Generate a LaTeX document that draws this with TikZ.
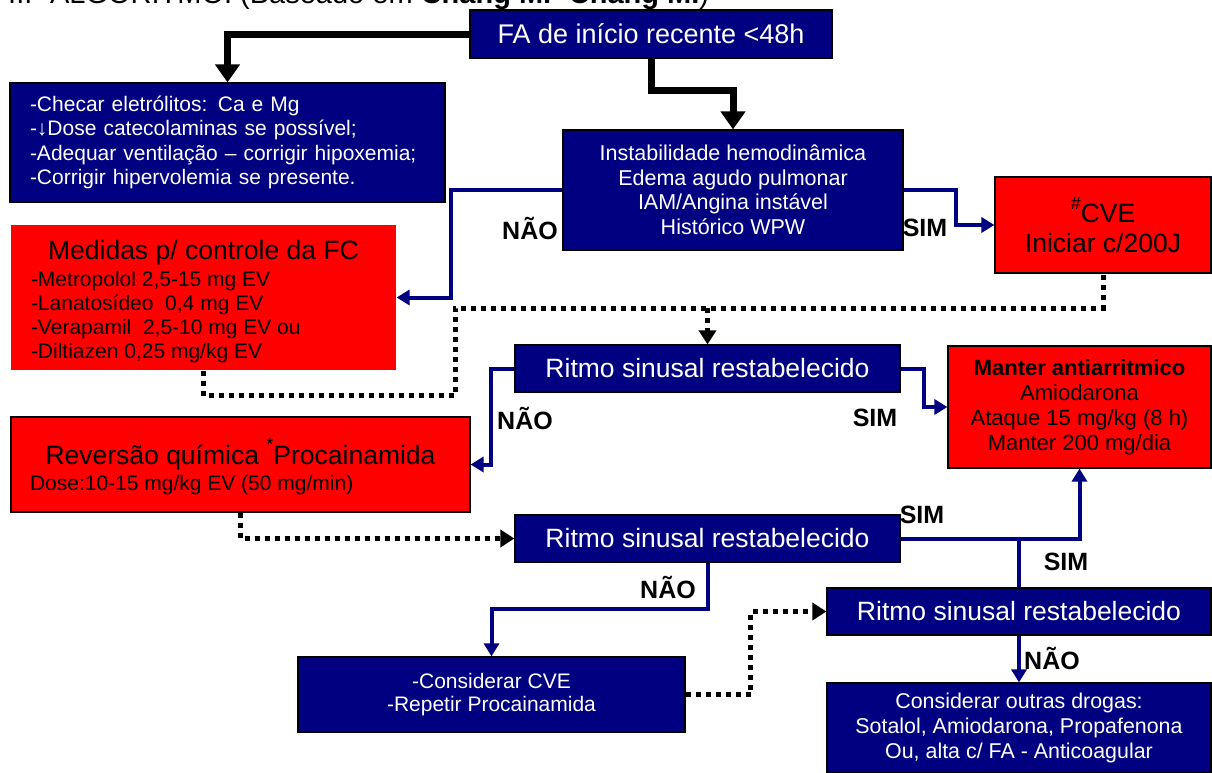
\documentclass[tikz,border=0pt]{standalone}
\usepackage{fontspec}
\setmainfont{Liberation Sans}
\usetikzlibrary{arrows.meta}
\definecolor{navyc}{RGB}{0,0,128}
\definecolor{redc}{RGB}{255,0,0}
\newcommand\fs[2]{\fontsize{#1}{#2}\selectfont}
\begin{document}
\begin{tikzpicture}[x=1pt,y=-1pt,
  box/.style={rectangle,inner sep=0pt,draw=black,line width=1.2pt},
  nbox/.style={box,fill=navyc,text=white},
  rbox/.style={box,fill=redc,text=black},
  blk/.style={draw=black,line width=7pt,-{Triangle[width=24pt,length=18pt]}},
  nav/.style={draw=navyc,line width=4pt,-{Triangle[width=15pt,length=13pt]}},
  navl/.style={draw=navyc,line width=4pt},
  dotl/.style={draw=black,line width=5pt,dash pattern=on 5pt off 5pt},
  dota/.style={dotl,-{Triangle[width=17pt,length=14pt]}},
  lbl/.style={font=\bfseries\fs{25}{25},inner sep=0pt}]
\useasboundingbox (0,0) rectangle (1212,772);

\node[anchor=base west,inner sep=0pt,font=\fs{29}{29}] (ttl) at (8,3.5) {III- ALGORITMO: (Baseado em \textbf{Chang MI- Chang MI})};

\node[nbox,minimum width=362pt,minimum height=48pt,font=\fs{27}{30}] (fa) at (651,34) {FA de início recente <48h};
\node[nbox,minimum width=435pt,minimum height=119pt,text width=395pt,align=left,font=\fs{21}{24.3}] (chk) at (227.5,142.5) {-Checar eletrólitos: Ca e Mg\\-↓Dose catecolaminas se possível;\\-Adequar ventilação – corrigir hipoxemia;\\-Corrigir hipervolemia se presente.};
\node[nbox,minimum width=340pt,minimum height=120pt,align=center,font=\fs{21.5}{24.5}] (ins) at (733,190) {Instabilidade hemodinâmica\\Edema agudo pulmonar\\IAM/Angina instável\\Histórico WPW};
\node[rbox,minimum width=216pt,minimum height=96pt,align=center,font=\fs{26.5}{30}] (cve) at (1103,225) {\raisebox{0.5em}{\fs{18}{18}\#}CVE\\Iniciar c/200J};
\node[rbox,draw=none,minimum width=385pt,minimum height=145pt] (med) at (203.5,297.5) {\begin{minipage}{345pt}\vspace*{8pt}\centering\fs{26.5}{28}Medidas p/ controle da FC\par\vspace{3pt}\raggedright\fs{21}{24}-Metropolol 2,5-15 mg EV\\-Lanatosídeo\ \ 0,4 mg EV\\-Verapamil\ \ 2,5-10 mg EV ou\\-Diltiazen 0,25 mg/kg EV\end{minipage}};

\node[nbox,minimum width=385pt,minimum height=47pt,font=\fs{26.5}{30}] (r1) at (707.5,368.5) {Ritmo sinusal restabelecido};
\node[rbox,minimum width=263pt,minimum height=122pt,align=center,font=\fs{22}{25}] (man) at (1079.5,407) {\textbf{Manter antiarritmico}\\Amiodarona\\Ataque 15 mg/kg (8 h)\\Manter 200 mg/dia};
\node[rbox,minimum width=459pt,minimum height=95pt] (rev) at (240.5,464.5) {\begin{minipage}{421pt}\vspace*{4pt}\centering\fs{26.5}{28}Reversão química\ \raisebox{0.55em}{\fs{18}{18}*}Procainamida\par\vspace{2pt}\raggedright\fs{21}{24}Dose:10-15 mg/kg EV (50 mg/min)\end{minipage}};
\node[nbox,minimum width=385pt,minimum height=47pt,font=\fs{26.5}{30}] (r2) at (707.5,538.5) {Ritmo sinusal restabelecido};
\node[nbox,minimum width=384pt,minimum height=47pt,font=\fs{26.5}{30}] (r3) at (1019,611.5) {Ritmo sinusal restabelecido};
\node[nbox,minimum width=387pt,minimum height=75pt,align=center,font=\fs{21}{23}] (cc) at (491.5,694.5) {-Considerar CVE\\-Repetir Procainamida};
\node[nbox,minimum width=384pt,minimum height=90pt,align=center,font=\fs{21.4}{25}] (co) at (1019,728) {Considerar outras drogas:\\Sotalol, Amiodarona, Propafenona\\Ou, alta c/ FA - Anticoagular};

% labels
\node[lbl] (n1) at (530,228) {NÃO};
\node[lbl] (s1) at (925,228) {SIM};
\node[lbl] (n2) at (525,418) {NÃO};
\node[lbl] (s2) at (875,418) {SIM};
\node[lbl] (s3) at (922,515) {SIM};
\node[lbl] (s4) at (1066,562) {SIM};
\node[lbl] (n3) at (668,587) {NÃO};
\node[lbl] (n4) at (1052,658) {NÃO};

% connectors
\draw[blk] (fa.west) -| (chk.north);
\draw[blk] (fa.south) -- ++(0,32) -| (ins.north);
\draw[nav] (ins.west) -| ([xshift=54pt]med.east) -- (med.east);
\draw[nav] (ins.east) -| ([xshift=-38pt]cve.west) -- (cve.west);
\coordinate (dA) at (455,308);
\draw[dotl] (med.south) -- ++(0,25) -| (dA) -| (cve.south);
\draw[dota] (dA -| r1.north) -- (r1.north);
\draw[nav] (r1.west) -| ([xshift=20pt]rev.east) -- (rev.east);
\draw[nav] (r1.east) -| ([xshift=-23pt]man.west) -- (man.west);
\draw[dota] (rev.south) |- (r2.west);
\draw[nav] (r2.east) -| (man.south);
\draw[navl] (r3.north) -- (r3.north |- r2.east);
\draw[nav] (r2.south) -- ++(0,46) -| (cc.north);
\draw[dota] (cc.east) -- ++(65,0) |- (r3.west);
\draw[nav] (r3.south) -- (co.north);
\end{tikzpicture}
\end{document}
